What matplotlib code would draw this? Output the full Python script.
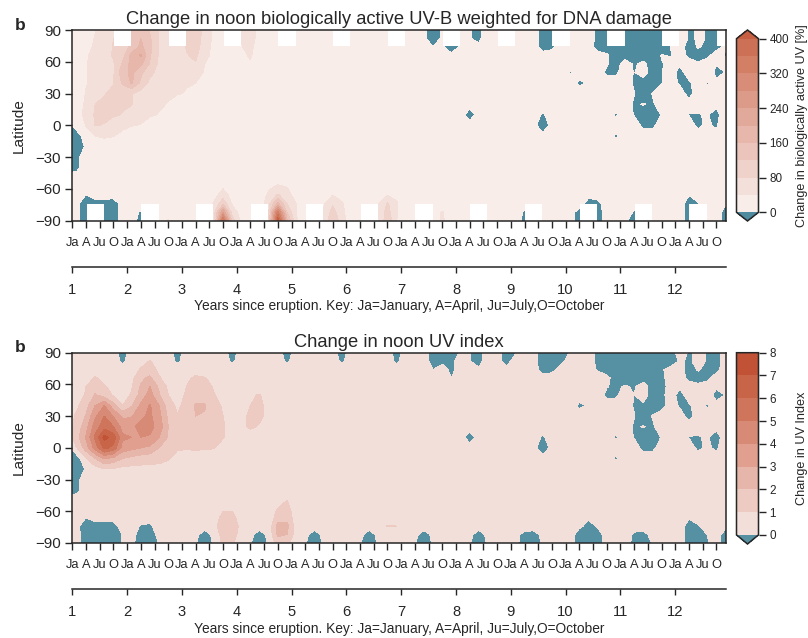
import numpy as np
from matplotlib import pyplot as plt

plt.rcParams['font.family'] = ['Liberation Sans', 'DejaVu Sans']
dark = '#262626'
n = np.nan

# grid of the contour plots: one column every two months, latitudes in degrees
months = list(range(-1, 145, 2))
lats = [90, 82, 74, 66, 58, 50, 40, 30, 20, 10, 0, -10, -20, -30, -40, -50, -60, -66, -74, -82, -90]

month_names = ['Ja', 'A', 'Ju', 'O'] * 12
years = list(range(1, 13))

# change in UV-B [%] (first value, then six columns per year, nan = polar night)
uvb_90 = [10] + [10,20,38,50,80,n] + [120,150,115,75,60,n] + [80,90,75,30,10,n] + [40,55,25,10,10,n] + [10,10,10,10,10,n]*2 + [10,10,10,-30,10,n] + [10,2,-10,30,10,n] + [10,10,10,-10,-10,n] + [10,10,10,-5,-10,n] + [-10,-10,-10,-10,-10,n] + [30,-5,3,-1,-10,n]
uvb_82 = [10] + [10,25,42,55,80,n] + [125,160,125,78,62,n] + [80,90,72,28,10,n] + [42,55,25,10,10,n] + [10,10,10,10,10,n]*2 + [10,10,10,-30,10,n] + [10,2,-10,30,10,n] + [10,10,10,-10,-8,n] + [10,10,10,-5,-10,n] + [-10,-10,-10,-10,-10,n] + [30,-5,3,-1,-10,n]
uvb_74 = [10] + [10,30,45,60,82,100] + [130,170,130,75,60,60] + [82,90,68,22,10,10] + [38,50,18,10,10,10] + [10]*12 + [10,10,10,0,10,-30] + [10,10,10,10,10,10] + [10,10,10,-10,-5,10] + [10,10,10,-10,-10,-10] + [-10,-10,-10,-10,-10,0] + [10,-10,2,-5,-8,5]
uvb_66 = [10] + [10,36,50,62,85,105] + [175,205,125,75,58,60] + [78,85,60,20,10,10] + [30,45,12,10,10,10] + [10]*30 + [10,10,-1,10,3,-10] + [-10,-10,-10,-10,1,-1] + [10,-5,-10,-5,10,-3]
uvb_58 = [10] + [10,38,50,62,75,125] + [175,170,115,70,58,58] + [65,78,40,12,10,10] + [25,35,10,10,10,10] + [10]*30 + [10,10,10,10,2,-10] + [10,-3,5,-10,-1,3] + [3,10,3,10,2,10]
uvb_50 = [10] + [12,38,50,60,75,145] + [170,130,90,68,58,55] + [50,48,38,12,10,10] + [10]*36 + [-2,10,10,10,-4,-4] + [10,-1,10,-10,-1,10] + [-8,10,10,30,-12,1]
uvb_40 = [10] + [12,38,48,55,78,125] + [165,110,70,58,50,46] + [42,40,25,10,10,10] + [10]*36 + [10,-4,2,10,10,10] + [10,-3,-10,-10,-1,10] + [-3,-3,10,-3,10,10]
uvb_30 = [10] + [15,42,55,78,88,95] + [82,65,55,50,45,42] + [38,18,10,10,10,10] + [10]*24 + [-1,10,10,10,10,10] + [10]*12 + [10,1,-10,1,10,10] + [10,-8,10,10,10,10]
uvb_20 = [10] + [25,45,80,85,88,85] + [82,60,50,45,38,22] + [12,10,10,10,10,10] + [10]*42 + [10,-3,1,-3,10,10] + [10]*6
uvb_10 = [10] + [28,48,85,88,85,78] + [62,52,45,38,20,10] + [10]*30 + [10,-12,10,10,10,10] + [10,10,10,-3,10,10] + [10,10,10,10,10,-3] + [10,-1,-10,-10,1,10] + [10,-1,-2,3,-15,30]
uvb_0 = [-10] + [10,42,82,78,60,50] + [42,38,18,10,10,10] + [10]*30 + [10,10,10,10,-1,10] + [10,10,10,-20,10,10] + [10]*6 + [10,10,-5,-5,10,10] + [10,10,-5,5,-5,30]
uvb_m10 = [-10] + [-10,12,40,48,42,28] + [15,10,10,10,10,10] + [10]*42 + [10,10,10,10,10,-3] + [10,10,10,10,-1,10] + [10]*6
uvb_m20 = [-10] + [-15,3,10,10,10,10] + [10]*66
uvb_m30 = [-10] + [-5,10,10,10,10,10] + [10]*66
uvb_m40 = [-10] + [-5,10,10,10,10,10] + [10]*66
uvb_m50 = [10] + [10]*72
uvb_m60 = [10] + [10]*12 + [10,10,10,10,40,10] + [10,10,10,35,60,45] + [10]*48
uvb_m66 = [10] + [10,-1,10,10,10,10] + [10]*6 + [10,10,10,25,60,25] + [10,10,10,50,85,55] + [25,10,10,15,40,25] + [10,10,10,25,40,30] + [10]*18 + [10,10,4,10,10,10] + [10]*6 + [10,0,10,10,10,10]
uvb_m74 = [10] + [8,-20,-10,-10,-15,10] + [10]*6 + [10,10,10,45,110,35] + [15,10,10,70,170,80] + [40,15,10,35,75,45] + [10,10,10,40,85,45] + [10]*18 + [10,10,-8,-8,10,10] + [10]*6 + [10,-10,-2,10,10,2]
uvb_m82 = [10] + [3,-10,n,-10,-15,10] + [10,-3,n,10,10,10] + [10,10,n,60,240,60] + [25,10,n,80,340,120] + [40,10,n,45,95,55] + [10,10,n,45,95,45] + [10,10,n,10,45,10] + [10,10,n,10,10,10] + [10,-3,n,10,10,10] + [10,-10,n,-10,10,10] + [10,-2,n,10,10,10] + [10,-10,n,10,10,-8]
uvb_m90 = [10] + [5,-10,n,-10,-15,10] + [5,-5,n,10,45,10] + [10,10,n,50,370,100] + [30,10,n,80,430,170] + [45,15,n,40,120,55] + [15,10,n,35,110,40] + [10,10,n,10,45,20] + [10,10,n,10,10,10] + [10,-5,n,10,10,10] + [10,-10,n,-10,10,10] + [2,-5,n,10,10,10] + [10,-10,n,10,10,-8]

# change in UV index
uvi_90 = [.5] + [-.1,.5,.5,.5,.5,-.5] + [.5,.5,.5,.5,.5,-.5]*5 + [.5,.5,.5,-.5,-.5,-.5] + [.1,.05,-.5,.9,.4,-.5] + [-.1,.5,.4,-.5,-.5,-.5] + [.1,.5,.5,-.2,-.5,-.5] + [-.5]*6 + [.5,-.1,.2,-.05,-.5,.6]
uvi_82 = [.5] + [.5,.5,.5,.5,.5,-.2] + [.5,.6,1.05,.6,.5,-.2] + [.5,.5,.5,.5,.5,-.2]*4 + [.5,.5,.5,-.5,-.3,-.3] + [.5,.05,-.5,.9,.4,-.5] + [.5,.5,.4,-.5,-.5,-.3] + [.5,.5,.5,-.3,-.5,-.5] + [-.5]*6 + [.1,-.1,.2,-.05,-.5,.6]
uvi_74 = [.5] + [.5]*6 + [.5,1.1,1.4,.8,.5,.5] + [.5]*24 + [.5,.5,.5,0,.5,-.3] + [.5,.5,.2,.5,.4,.4] + [.5,.5,.5,-.5,-.3,.4] + [.5,.5,.5,-.1,-.5,-.2] + [-.5,-.5,-.5,-.2,-.1,.3] + [.5,-.5,.1,-.3,-.3,.5]
uvi_66 = [.5] + [.5,.5,1.1,.7,.5,.5] + [.7,1.8,2.2,1.1,.5,.5] + [.8,1.2,1.05,.7,.5,.5] + [.5]*18 + [.5,.5,.5,.5,.5,0] + [.5]*12 + [.5,.5,-.02,.5,.3,-.5] + [-.5,-.5,-.5,-.1,-.3,.5] + [.5,-.3,-.5,-.3,.5,.5]
uvi_58 = [.5] + [.5,1.0,1.5,1.1,.7,.5] + [.9,2.1,3.0,1.8,.8,.5] + [1.0,1.5,1.4,.9,.5,.5] + [.5]*36 + [.5,.5,.5,.5,.05,-.2] + [.1,-.1,.5,-.5,-.5,.5] + [.2,.5,.3,.5,.3,.5]
uvi_50 = [.5] + [.5,1.1,2.1,1.5,.9,.6] + [1.1,2.4,3.4,2.1,1.0,.7] + [1.1,1.6,1.5,1.05,.7,.5] + [.5,.9,1.05,.6,.5,.5] + [.5]*30 + [-.02,.5,.5,.5,-.2,-.2] + [.5,0,.5,-.5,-.3,.5] + [-.4,.5,.5,.9,-.6,.05]
uvi_40 = [.5] + [.8,1.6,3.0,4.0,2.4,1.0] + [1.9,3.2,4.1,3.0,1.5,.8] + [1.3,2.1,2.1,1.3,.9,.5] + [.6,1.0,1.2,.7,.5,.5] + [.5]*30 + [.5,-.2,.1,.5,.5,.5] + [.5,-.1,-.2,-.5,-.4,.5] + [-.15,-.15,.5,-.15,.5,.5]
uvi_30 = [.5] + [1.2,2.1,3.8,5.0,3.9,2.8] + [2.9,3.8,4.2,3.3,1.8,1.05] + [1.3,2.0,1.9,1.4,1.0,.5] + [.7,1.2,1.2,.7,.5,.5] + [.5]*18 + [-.05,.5,.5,.5,.5,.5] + [.5]*12 + [.5,.05,-.5,.05,.5,.5] + [.5,-.4,.5,.5,.5,.5]
uvi_20 = [.5] + [1.4,2.6,4.5,5.6,5.0,3.6] + [3.8,4.3,4.3,3.6,2.0,1.3] + [1.3,1.4,1.5,1.4,1.1,.6] + [.8,1.15,.9,.5,.5,.5] + [.5]*36 + [.5,-.15,.05,-.15,.5,.5] + [.5]*6
uvi_10 = [.5] + [1.6,3.1,5.2,7.3,6.6,4.2] + [4.0,4.0,3.9,3.0,1.9,1.3] + [1.2,1.2,1.3,1.3,1.05,.6] + [.5]*24 + [.5,-.6,.5,.5,.5,.5] + [.5,.5,.5,-.15,.5,.5] + [.5,.5,.5,.5,.5,-.15] + [.5,-.05,-.5,-.5,.05,.5] + [.5,-.05,-.1,.15,-.75,.9]
uvi_0 = [-.5] + [1.0,2.5,4.4,6.3,5.7,3.6] + [3.3,3.0,2.8,2.0,1.5,1.1] + [1.1,1.15,1.1,1.05,.7,.5] + [.5]*24 + [.5,.5,.5,.5,-.05,.5] + [.5,.5,.5,-1,.5,.5] + [.5]*6 + [.5,.5,-.3,-.3,.5,.5] + [.5,.5,-.25,.25,-.25,.9]
uvi_m10 = [-.5] + [-.5,.9,2.0,3.1,2.7,2.0] + [1.7,1.5,1.4,1.3,1.1,.7] + [.5]*42 + [.5,.5,.5,.5,.5,-.15] + [.5,.5,.5,.5,-.05,.5] + [.5]*6
uvi_m20 = [-.5] + [-.75,.15,.6,1.0,.9,.7] + [.7,.7,.7,.7,.6,.5] + [.5]*60
uvi_m30 = [-.5] + [-.25,.5,.5,.5,.5,.5] + [.5]*66
uvi_m40 = [-.5] + [-.25,.5,.5,.5,.5,.5] + [.5]*66
uvi_m50 = [.5] + [.5]*18 + [.5,.5,.5,.5,.7,1.02] + [.5]*48
uvi_m60 = [.5] + [.5]*12 + [.5,.5,.5,.5,1.0,1.0] + [.5,.5,.5,.6,1.1,1.3] + [.6,.5,.5,.5,.5,.5] + [.5]*42
uvi_m66 = [.5] + [.5,0,.5,.5,.5,.5] + [.5]*6 + [.5,.5,.5,.5,1.3,1.3] + [.5,.5,.5,.4,1.4,1.6] + [.5]*30 + [.5,.5,.1,.5,.5,.5] + [.5]*6 + [.5,.1,.5,.5,.5,.5]
uvi_m74 = [.5] + [.4,-1,-.5,-.5,-.5,.5] + [.5,-.1,-.2,.5,.5,.5] + [.5,.5,.5,.5,1.9,2.0] + [.5,.5,.5,.3,2.4,2.3] + [.5]*6 + [.5,.5,.5,.5,1.05,1.0] + [.5]*18 + [.5,.2,-.3,.1,.5,.5] + [.5]*6 + [.5,-.5,-.1,.5,.5,.3]
uvi_m82 = [.5] + [.3,-.5,-.5,-.5,-1,.1] + [.25,-.3,-.5,.3,.5,.5] + [.5,.3,-.5,.3,1.4,1.5] + [.5,.3,-.5,.3,2.2,2.0] + [.5,.3,-.5,.3,.5,.5]*4 + [.3,-.3,-.4,.3,.5,.5] + [.5,-.5,-.5,-.5,.5,.5] + [.5,-.2,-.3,.3,.5,.5] + [.5,-.5,-.5,0,.5,-.5]
uvi_m90 = [.5] + [.3,-.5,-.5,-.5,-1,.1] + [.25,-.5,-.5,.05,.5,.5] + [.5,.05,-.5,.1,1.2,1.1] + [.5,.05,-.5,.1,1.4,1.2] + [.5,.05,-.5,.1,.5,.5]*4 + [.3,-.5,-.5,.1,.5,.5] + [.5,-.5,-.5,-.5,.5,.5] + [.5,-.3,-.5,.05,.5,.5] + [.5,-.5,-.5,-.1,.5,-.5]

uvb = np.array([uvb_90, uvb_82, uvb_74, uvb_66, uvb_58, uvb_50, uvb_40, uvb_30, uvb_20, uvb_10, uvb_0,
                uvb_m10, uvb_m20, uvb_m30, uvb_m40, uvb_m50, uvb_m60, uvb_m66, uvb_m74, uvb_m82, uvb_m90])
uvi = np.array([uvi_90, uvi_82, uvi_74, uvi_66, uvi_58, uvi_50, uvi_40, uvi_30, uvi_20, uvi_10, uvi_0,
                uvi_m10, uvi_m20, uvi_m30, uvi_m40, uvi_m50, uvi_m60, uvi_m66, uvi_m74, uvi_m82, uvi_m90])

uvb_colors = ['#4e8b9f', '#f9ede9', '#f4e0da', '#efd2ca', '#ebc5bb', '#e6b7aa', '#e1a999',
              '#dc9b88', '#d78d77', '#d27f66', '#cd7156', '#c75f42']
uvi_colors = ['#5690a3', '#f3dfda', '#eecbc2', '#e7b6aa', '#e09f8f', '#d78a75', '#cf755c', '#c86548', '#c15236']


def panel(top, bottom, data, levels, colors, extend, title, cbar_ticks, cbar_label, cbar_top, cbar_bottom):
    W, H = 808.0, 638.0
    ax = fig.add_axes([72.3 / W, 1 - bottom / H, 653.2 / W, (bottom - top) / H])
    cf = ax.contourf(months, lats, data, levels=levels, colors=colors, extend=extend, corner_mask=False)
    ax.set_xlim(0, 143)
    ax.set_ylim(-90, 90)
    ax.set_yticks(np.arange(-90, 91, 30))
    ax.set_xticks(np.arange(0, 144, 3))
    ax.set_xticklabels(month_names, fontsize=9.3, color=dark)
    ax.tick_params(axis='x', length=5, width=1, color=dark, pad=6.5)
    ax.tick_params(axis='y', length=5, width=1, color=dark, labelsize=10.8, labelcolor=dark, pad=3)
    ax.set_ylabel('Latitude', fontsize=11.1, color=dark)
    ax.yaxis.set_label_coords(-0.071, 0.5)
    ax.set_title(title, fontsize=13.2, color=dark, pad=4)
    for s in ax.spines.values():
        s.set_color(dark)
        s.set_linewidth(1.1)

    # second axis with the years below the months
    ax2 = ax.twiny()
    ax2.set_xlim(0, 143)
    ax2.xaxis.set_ticks_position('bottom')
    ax2.xaxis.set_label_position('bottom')
    for name, s in ax2.spines.items():
        s.set_visible(name == 'bottom')
    ax2.spines['bottom'].set_position(('outward', 33))
    ax2.spines['bottom'].set_color(dark)
    ax2.spines['bottom'].set_linewidth(1.1)
    ax2.set_xticks(np.arange(0, 144, 12))
    ax2.set_xticklabels(years, fontsize=10.6, color=dark)
    ax2.tick_params(axis='x', length=4.5, width=1, color=dark, pad=7)
    ax2.set_xlabel('Years since eruption. Key: Ja=January, A=April, Ju=July,O=October',
                   fontsize=9.95, color=dark, labelpad=2)

    cax = fig.add_axes([736.5 / W, 1 - cbar_bottom / H, 22 / W, (cbar_bottom - cbar_top) / H])
    cb = fig.colorbar(cf, cax=cax, ticks=cbar_ticks)
    cb.outline.set_edgecolor(dark)
    cb.outline.set_linewidth(1.1)
    cb.ax.tick_params(length=5, width=1, color=dark, labelsize=8.4, labelcolor=dark, pad=3)
    fig.text(802 / W, 1 - (cbar_top + cbar_bottom) / 2 / H, cbar_label, rotation=90, fontsize=9.1,
             color=dark, ha='center', va='center')
    fig.text(20 / W, 1 - (top - 5) / H, 'b', fontsize=12.5, fontweight='bold', color=dark, ha='center', va='center')


fig = plt.figure(figsize=(8.08, 6.38), dpi=100)
panel(30, 220.7, uvb, np.arange(0, 401, 40), uvb_colors, 'both',
      'Change in noon biologically active UV-B weighted for DNA damage',
      np.arange(0, 401, 80), 'Change in biologically active UV [%]', 30, 221)
panel(352.7, 543, uvi, np.arange(0, 9), uvi_colors, 'min', 'Change in noon UV index',
      np.arange(0, 9), 'Change in UV Index', 352.7, 544)
plt.savefig('out.png', dpi=100)
